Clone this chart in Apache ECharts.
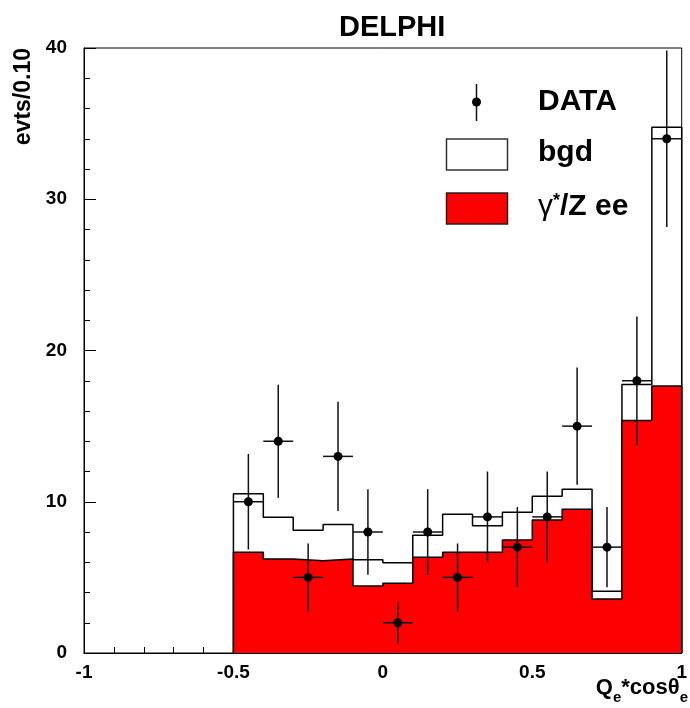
<!DOCTYPE html>
<html>
<head>
<meta charset="utf-8">
<script src="https://cdn.jsdelivr.net/npm/echarts@6/dist/echarts.min.js"></script>
<style>
html,body{margin:0;padding:0;background:#fff;}
#chart{width:690px;height:708px;}
</style>
</head>
<body>
<div id="chart"></div>
<script>
// Bin centres (bin width 0.1) of Q_e*cos(theta_e)
const binCenters = [-0.45,-0.35,-0.25,-0.15,-0.05,0.05,0.15,0.25,0.35,0.45,0.55,0.65,0.75,0.85,0.95];
const binHalfWidth = 0.05;
// Observed events
const dataVals = [10,14,5,13,8,2,8,5,9,7,9,15,7,18,34];
// Errors on observed events
const dataErr = [3.16,3.74,2.24,3.61,2.83,1.41,2.83,2.24,3.0,2.65,3.0,3.87,2.65,4.24,5.83];
// gamma*/Z ee expectation (red)
const zeeVals = [6.66,6.21,6.10,6.21,4.43,4.61,6.33,6.66,6.66,7.47,8.79,9.50,3.57,15.38,17.65];
// Total expectation: gamma*/Z ee + background (white)
const totalVals = [10.53,8.97,8.11,8.50,6.17,5.97,7.78,9.17,8.42,9.30,10.36,10.82,4.08,17.76,34.76];
// Axis ticks
const xTicks = [-1,-0.5,0,0.5,1];
const yTicks = [0,10,20,30,40];

function steps(vals){
  const pts = [[binCenters[0]-binHalfWidth, 0]];
  for (let i=0;i<vals.length;i++){
    pts.push([binCenters[i]-binHalfWidth, vals[i]]);
    pts.push([binCenters[i]+binHalfWidth, vals[i]]);
  }
  pts.push([binCenters[binCenters.length-1]+binHalfWidth, 0]);
  return pts;
}

const FONT = '"Liberation Sans", Arial, Helvetica, sans-serif';
const chart = echarts.init(document.getElementById('chart'), null, {renderer:'canvas'});

const option = {
  animation:false,
  backgroundColor:'#fff',
  title:{
    text:'DELPHI', left:334, top:8,
    textStyle:{fontFamily:FONT, fontWeight:'bold', fontSize:29, color:'#000'}
  },
  grid:{left:84, right:2, top:48, bottom:55, show:true, borderColor:'#000', borderWidth:1, backgroundColor:'transparent'},
  xAxis:{
    type:'value', min:xTicks[0], max:xTicks[xTicks.length-1], interval:0.5,
    axisLine:{show:true, onZero:false, lineStyle:{color:'#000', width:1}},
    axisTick:{show:true, inside:true, length:12, lineStyle:{color:'#000'}},
    minorTick:{show:true, splitNumber:5, length:6, lineStyle:{color:'#000'}},
    splitLine:{show:false},
    axisLabel:{fontFamily:FONT, fontWeight:'bold', fontSize:19, color:'#000', margin:10,
      formatter:function(v){ return String(v); }}
  },
  yAxis:{
    type:'value', min:yTicks[0], max:yTicks[yTicks.length-1], interval:10,
    axisLine:{show:true, onZero:false, lineStyle:{color:'#000', width:1}},
    axisTick:{show:true, inside:true, length:12, lineStyle:{color:'#000'}},
    minorTick:{show:true, splitNumber:5, length:6, lineStyle:{color:'#000'}},
    splitLine:{show:false},
    axisLabel:{fontFamily:FONT, fontWeight:'bold', fontSize:19, color:'#000', margin:17}
  },
  series:[
    {
      name:'bgd', type:'line', data:steps(totalVals), symbol:'none',
      lineStyle:{color:'#000', width:1.5}, z:2
    },
    {
      name:'zee', type:'line', data:steps(zeeVals), symbol:'none',
      lineStyle:{color:'#000', width:1.5},
      areaStyle:{color:'#ff0000', opacity:1, origin:'start'}, z:3
    },
    {
      name:'DATA', type:'custom', z:5,
      data: binCenters.map((c,i)=>[c, dataVals[i], dataErr[i]]),
      renderItem:function(params, api){
        const x=api.value(0), y=api.value(1), e=api.value(2);
        const top=api.coord([x,y+e]), bot=api.coord([x,y-e]);
        const l=api.coord([x-binHalfWidth,y]), r=api.coord([x+binHalfWidth,y]);
        const c=api.coord([x,y]);
        const st={stroke:'#111', lineWidth:1.5};
        return {type:'group', children:[
          {type:'line', shape:{x1:top[0],y1:top[1],x2:bot[0],y2:bot[1]}, style:st},
          {type:'line', shape:{x1:l[0],y1:l[1],x2:r[0],y2:r[1]}, style:st},
          {type:'circle', shape:{cx:c[0],cy:c[1],r:4.5}, style:{fill:'#000'}}
        ]};
      }
    }
  ],
  graphic:[
    // legend: DATA
    {type:'line', shape:{x1:476.5,y1:84,x2:476.5,y2:121}, style:{stroke:'#111', lineWidth:1.5}, z:10},
    {type:'circle', shape:{cx:476.5, cy:102, r:4.5}, style:{fill:'#000'}, z:10},
    {type:'text', x:538, y:102, style:{text:'DATA', fontFamily:FONT, fontWeight:'bold', fontSize:30, fill:'#000', verticalAlign:'middle', align:'left'}, z:10},
    // legend: bgd
    {type:'rect', shape:{x:446.5, y:139, width:61, height:31}, style:{fill:'#fff', stroke:'#333', lineWidth:1.5}, z:10},
    {type:'text', x:538, y:153, style:{text:'bgd', fontFamily:FONT, fontWeight:'bold', fontSize:30, fill:'#000', verticalAlign:'middle', align:'left'}, z:10},
    // legend: gamma*/Z ee
    {type:'rect', shape:{x:446.5, y:193, width:61, height:31}, style:{fill:'#ff0000', stroke:'#222', lineWidth:1.5}, z:10},
    {type:'text', x:538, y:207, style:{
      text:'{g|γ}{s|*}{t|/Z ee}', verticalAlign:'middle', align:'left',
      rich:{
        g:{fontFamily:FONT, fontSize:30, fontWeight:'normal', fill:'#000', verticalAlign:'bottom'},
        s:{fontFamily:FONT, fontSize:18, fontWeight:'bold', fill:'#000', verticalAlign:'top'},
        t:{fontFamily:FONT, fontSize:30, fontWeight:'bold', fill:'#000', verticalAlign:'bottom'}
      }}, z:10},
    // y-axis title
    {type:'text', x:24, y:48, rotation:Math.PI/2, style:{text:'evts/0.10', fontFamily:FONT, fontWeight:'bold', fontSize:23, fill:'#000', align:'right', verticalAlign:'middle'}, z:10},
    // x-axis title
    {type:'text', x:688, y:693, style:{
      text:'{b|Q}{s|e}{b|*cosθ}{s|e}', align:'right', verticalAlign:'middle',
      rich:{
        b:{fontFamily:FONT, fontWeight:'bold', fontSize:22, lineHeight:24, fill:'#000', verticalAlign:'bottom', padding:[0,0,6,0]},
        s:{fontFamily:FONT, fontWeight:'bold', fontSize:15, lineHeight:16, fill:'#000', verticalAlign:'bottom'}
      }}, z:10}
  ]
};
chart.setOption(option);
</script>
</body>
</html>
